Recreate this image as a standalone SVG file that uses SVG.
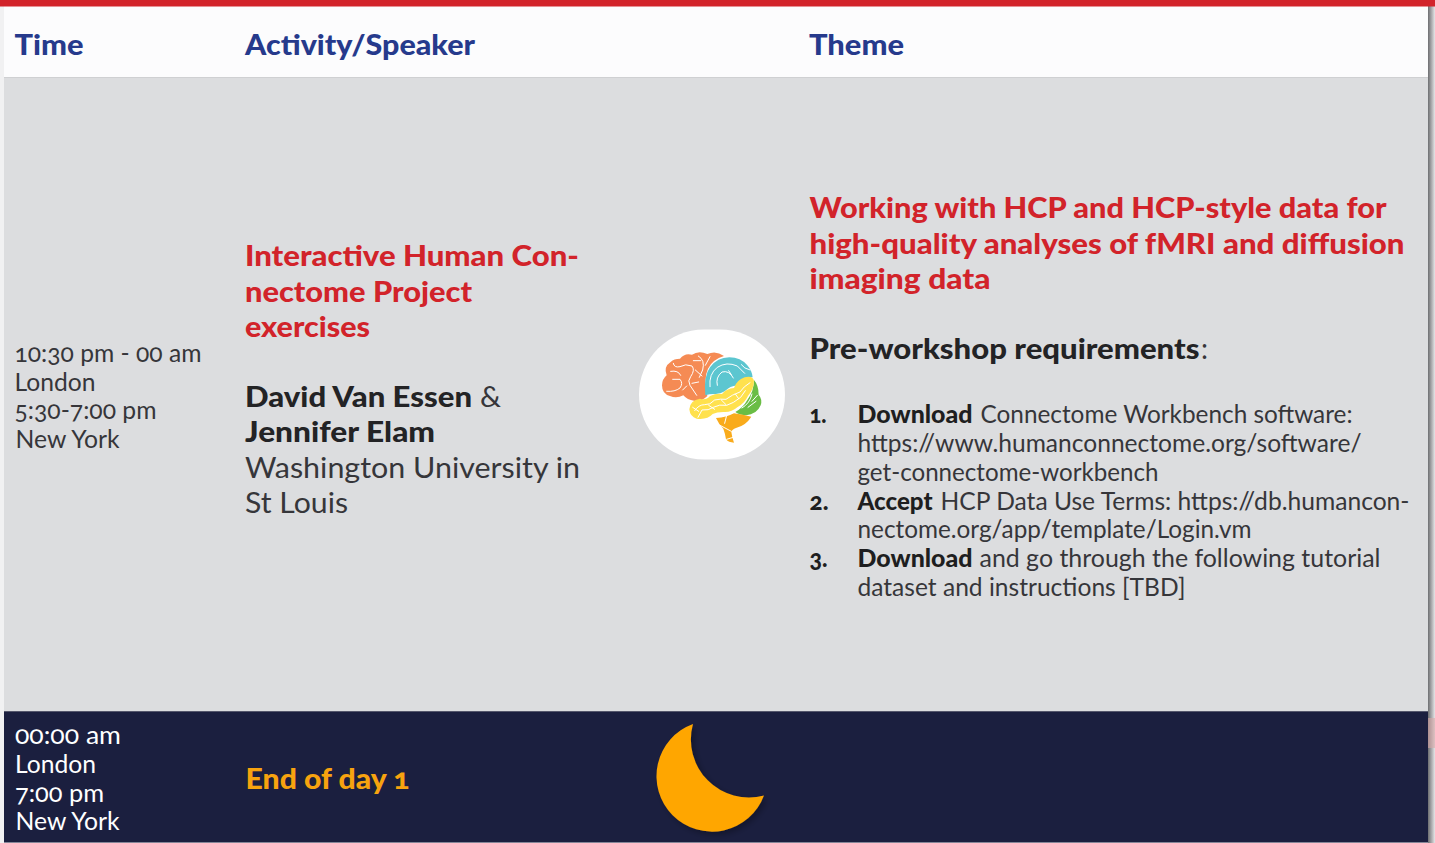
<svg xmlns="http://www.w3.org/2000/svg" width="1435" height="843" viewBox="0 0 1435 843">
<defs>
<linearGradient id="edge" x1="0" x2="1" y1="0" y2="0"><stop offset="0" stop-color="#6d6e71"/><stop offset="1" stop-color="#e6e6e8"/></linearGradient>
<filter id="moonShadow" x="-20%" y="-20%" width="150%" height="150%"><feDropShadow dx="3" dy="3" stdDeviation="3" flood-color="#000" flood-opacity=".3"/></filter>
</defs>
<style>
text{font-family:Lato,"Open Sans","Liberation Sans",sans-serif;font-variant-numeric:oldstyle-nums}
.h{font-size:29px;font-weight:900;fill:#263a8c}
.t{font-size:25px;fill:#36363a}
.r{font-size:29px;font-weight:900;fill:#d2232a}
.s{font-size:29px;font-weight:900;fill:#232325}
.a{font-size:29px;fill:#36363a}
.b{font-size:25px;fill:#36363a}
.bb{font-size:25px;font-weight:900;fill:#1e1e20}
.w{font-size:25px;fill:#fff}
.o{font-size:29px;font-weight:900;fill:#f7a30f}
.vein{fill:none;stroke:#fff;stroke-width:3;stroke-linecap:round;stroke-linejoin:round}
</style>
<rect width="1435" height="843" fill="#f1f1f2"/>
<rect x="1428" y="0" width="7" height="843" fill="url(#edge)"/>
<rect x="1428" y="718" width="7" height="30" fill="#d9a9a9" opacity=".6"/>
<g id="header">
<rect x="4" y="6" width="1424" height="72" fill="#fcfcfd"/>
<rect x="0" y="0" width="1435" height="6.500" fill="#d2232a"/>
<line x1="4" x2="1428" y1="77.500" y2="77.500" stroke="#cfd0d2"/>
<text class="h" x="14.500" y="55" textLength="69" lengthAdjust="spacingAndGlyphs">Time</text>
<text class="h" x="245" y="55" textLength="230" lengthAdjust="spacingAndGlyphs">Activity/Speaker</text>
<text class="h" x="809" y="55" textLength="95" lengthAdjust="spacingAndGlyphs">Theme</text>
</g>
<g id="session">
<rect x="4" y="78" width="1424" height="634" fill="#dcdddf"/>
<g id="session-time">
<text class="t" x="14.500" y="362" textLength="187" lengthAdjust="spacingAndGlyphs">10:30 pm - 00 am</text>
<text class="t" x="14.500" y="391" textLength="81" lengthAdjust="spacingAndGlyphs">London</text>
<text class="t" x="14.500" y="419" textLength="142" lengthAdjust="spacingAndGlyphs">5:30-7:00 pm</text>
<text class="t" x="15.500" y="448" textLength="104" lengthAdjust="spacingAndGlyphs">New York</text>
</g>
<g id="session-activity">
<text class="r" x="245" y="266" textLength="334" lengthAdjust="spacingAndGlyphs">Interactive Human Con-</text>
<text class="r" x="245" y="302" textLength="227" lengthAdjust="spacingAndGlyphs">nectome Project</text>
<text class="r" x="245" y="336.500" textLength="125" lengthAdjust="spacingAndGlyphs">exercises</text>
<text class="s" x="245" y="407" textLength="227" lengthAdjust="spacingAndGlyphs">David Van Essen</text>
<text class="a" x="480" y="407" textLength="21" lengthAdjust="spacingAndGlyphs">&amp;</text>
<text class="s" x="245" y="442" textLength="190" lengthAdjust="spacingAndGlyphs">Jennifer Elam</text>
<text class="a" x="245" y="478" textLength="335" lengthAdjust="spacingAndGlyphs">Washington University in</text>
<text class="a" x="245" y="513" textLength="103" lengthAdjust="spacingAndGlyphs">St Louis</text>
</g>
<g id="brain-icon">
<rect x="639" y="329.500" width="146" height="130" rx="65" ry="65" fill="#fff"/>
<g transform="translate(630 320) scale(.3333)">
<path fill="#f58b54" d="M232 228Q214 246 192 242Q172 240 160 226Q140 236 120 228Q96 222 96 196Q96 178 110 166Q100 140 122 126Q132 116 150 116Q164 98 186 104Q206 90 232 102Q258 90 282 108Q248 118 234 146Q220 176 232 228Z"/>
<path fill="#5cc6d0" d="M226 226Q220 170 240 142Q262 112 298 112Q332 112 352 136Q366 152 368 172Q345 168 322 196Q300 198 284 214Q268 224 252 222Q238 222 226 226Z"/>
<path fill="#6abd45" d="M372 180Q386 196 386 224Q398 238 392 256Q380 284 348 286Q330 286 316 276Q340 262 352 240Q372 214 372 180Z"/>
<path fill="#f9ab1c" d="M258 294Q290 292 312 280Q340 284 364 290Q348 316 318 324Q306 328 304 336Q306 352 312 368Q296 368 288 358Q286 342 280 326Q266 312 258 294Z"/>
<path fill="#ffe14d" d="M178 268Q180 240 210 236Q228 242 240 228Q258 220 276 222Q290 206 312 204Q320 180 344 172Q368 166 372 182Q372 206 354 228Q344 250 322 262Q304 278 280 276Q260 276 248 282Q232 300 200 296Q180 290 178 268Z"/>
<g class="vein">
<path d="M110 214Q135 216 150 204Q160 190 150 178L128 178M122 154Q145 150 152 166M130 130Q132 144 150 140Q166 130 186 138Q196 150 182 170Q172 182 180 196L200 226M170 198L158 210M186 190L206 186M205 108Q226 120 218 150L208 172M190 122L212 122M226 136L240 110M196 150L216 168"/>
<path d="M240 200Q236 162 262 142Q290 124 322 138L344 160M262 196Q256 172 276 156Q298 150 310 174M334 134Q342 146 360 150M296 152L304 164"/>
<path d="M194 272Q206 254 224 254Q240 256 254 240Q272 236 288 238Q306 224 330 216Q340 200 360 188M204 292L216 270Q236 272 250 262Q268 252 290 256Q310 250 332 232L346 212M236 256L254 268M274 240L288 254M316 222L326 236M188 262L206 274"/>
<path d="M336 264Q360 250 366 222M354 262L378 244M366 244L382 226"/>
<path d="M270 316L304 334M290 358L310 352M290 286L284 310"/>
</g>
</g>
</g>
<g id="session-theme">
<text class="r" x="809.500" y="218" textLength="577" lengthAdjust="spacingAndGlyphs">Working with HCP and HCP-style data for</text>
<text class="r" x="809.500" y="254" textLength="595" lengthAdjust="spacingAndGlyphs">high-quality analyses of fMRI and diffusion</text>
<text class="r" x="809.500" y="289" textLength="181" lengthAdjust="spacingAndGlyphs">imaging data</text>
<text class="s" x="809.500" y="359" textLength="390" lengthAdjust="spacingAndGlyphs">Pre-workshop requirements</text>
<text class="a" x="1201" y="359" textLength="7" lengthAdjust="spacingAndGlyphs">:</text>
<text class="bb" x="809.500" y="423" textLength="17" lengthAdjust="spacingAndGlyphs">1.</text>
<text class="bb" x="857.500" y="423" textLength="115" lengthAdjust="spacingAndGlyphs">Download</text>
<text class="b" x="980.500" y="423" textLength="372" lengthAdjust="spacingAndGlyphs">Connectome Workbench software:</text>
<text class="b" x="857.500" y="452" textLength="504" lengthAdjust="spacingAndGlyphs">https://www.humanconnectome.org/software/</text>
<text class="b" x="857.500" y="481" textLength="301" lengthAdjust="spacingAndGlyphs">get-connectome-workbench</text>
<text class="bb" x="809.500" y="510" textLength="19" lengthAdjust="spacingAndGlyphs">2.</text>
<text class="bb" x="857.500" y="510" textLength="75" lengthAdjust="spacingAndGlyphs">Accept</text>
<text class="b" x="940.500" y="510" textLength="469" lengthAdjust="spacingAndGlyphs">HCP Data Use Terms: https://db.humancon-</text>
<text class="b" x="857.500" y="538" textLength="394" lengthAdjust="spacingAndGlyphs">nectome.org/app/template/Login.vm</text>
<text class="bb" x="809.500" y="567" textLength="18" lengthAdjust="spacingAndGlyphs">3.</text>
<text class="bb" x="857.500" y="567" textLength="115" lengthAdjust="spacingAndGlyphs">Download</text>
<text class="b" x="979.500" y="567" textLength="401" lengthAdjust="spacingAndGlyphs">and go through the following tutorial</text>
<text class="b" x="857.500" y="596" textLength="328" lengthAdjust="spacingAndGlyphs">dataset and instructions [TBD]</text>
</g>
</g>
<g id="end-of-day">
<rect x="4" y="711.500" width="1424" height="131" fill="#1b1f3f"/>
<line x1="4" x2="1428" y1="711.500" y2="711.500" stroke="#55576c"/>
<text class="w" x="15" y="744" textLength="106" lengthAdjust="spacingAndGlyphs">00:00 am</text>
<text class="w" x="15" y="773" textLength="81" lengthAdjust="spacingAndGlyphs">London</text>
<text class="w" x="15" y="802" textLength="89" lengthAdjust="spacingAndGlyphs">7:00 pm</text>
<text class="w" x="15.500" y="830" textLength="104" lengthAdjust="spacingAndGlyphs">New York</text>
<text class="o" x="245.500" y="789" textLength="164" lengthAdjust="spacingAndGlyphs">End of day 1</text>
<path id="moon" d="M694 724.500A55.500 55.500 0 1 0 765 796A58 58 0 0 1 694 724.500Z" transform="translate(-1 -.5)" fill="#ffa600" filter="url(#moonShadow)"/>
</g>
</svg>
